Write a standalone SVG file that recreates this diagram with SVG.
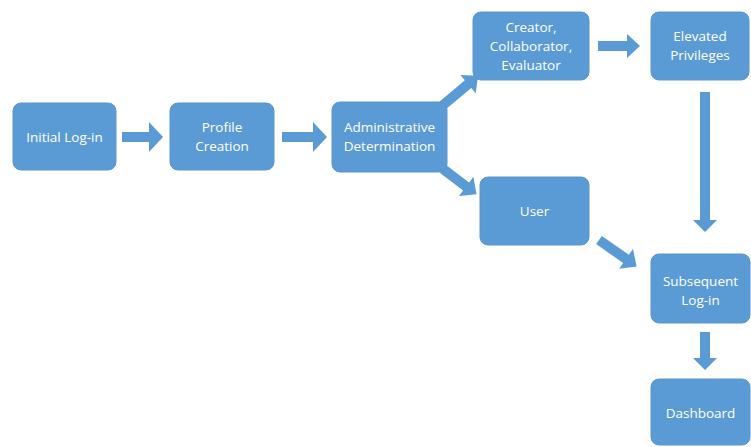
<svg xmlns="http://www.w3.org/2000/svg" width="751" height="447" viewBox="0 0 751 447">
<style>
.box{fill:#5B9BD5;stroke:#5A96CE;stroke-width:1}
.arr{fill:#5B9BD5}
text{font-family:"Open Sans","Liberation Sans",sans-serif;font-size:13.5px;fill:#FFFFFF;text-anchor:middle}
</style>
<rect width="751" height="447" fill="#FFFFFF"/>
<g id="connectors">
<path class="arr" transform="translate(122,137)" d="M0,-5 H27 V-15 L41,0 L27,15 V5 H0 Z"/>
<path class="arr" transform="translate(282,137)" d="M0,-5 H31 V-15 L45,0 L31,15 V5 H0 Z"/>
<path class="arr" transform="translate(598,46)" d="M0,-5 H29 V-12 L42,0 L29,12 V5 H0 Z"/>
<path class="arr" transform="translate(705,92) rotate(90)" d="M0,-5 H128 V-12 L140,0 L128,12 V5 H0 Z"/>
<path class="arr" transform="translate(705,332) rotate(90)" d="M0,-5 H26 V-12 L38,0 L26,12 V5 H0 Z"/>
<path class="arr" transform="translate(442,106) rotate(-40)" d="M0,-5 H34 V-12 L47,0 L34,12 V5 H0 Z"/>
<path class="arr" transform="translate(443,169) rotate(37)" d="M0,-5 H29 V-12 L42,0 L29,12 V5 H0 Z"/>
<path class="arr" transform="translate(599,240) rotate(35)" d="M0,-5 H33 V-12 L46,0 L33,12 V5 H0 Z"/>
</g>
<g id="initial-login"><rect class="box" x="13" y="103" width="103" height="67" rx="8"/><text x="64.5" y="141.5">Initial Log-in</text></g>
<g id="profile-creation"><rect class="box" x="170" y="103" width="104" height="67" rx="8"/><text x="222" y="131.5">Profile</text><text x="222" y="150.5">Creation</text></g>
<g id="admin-determination"><rect class="box" x="332" y="102" width="115" height="70" rx="8"/><text x="389.5" y="131.5">Administrative</text><text x="389.5" y="150.5">Determination</text></g>
<g id="creator"><rect class="box" x="473" y="12" width="116" height="68" rx="8"/><text x="531" y="31.5">Creator,</text><text x="531" y="50.5">Collaborator,</text><text x="531" y="69.5">Evaluator</text></g>
<g id="elevated"><rect class="box" x="651" y="12" width="98" height="68" rx="8"/><text x="700" y="40.5">Elevated</text><text x="700" y="59.5">Privileges</text></g>
<g id="user"><rect class="box" x="480" y="177" width="109" height="68" rx="8"/><text x="534.5" y="215.5">User</text></g>
<g id="subsequent"><rect class="box" x="651" y="254" width="99" height="69" rx="8"/><text x="700.5" y="285.5">Subsequent</text><text x="700.5" y="304.5">Log-in</text></g>
<g id="dashboard"><rect class="box" x="651" y="379" width="99" height="66" rx="8"/><text x="700.5" y="417.5">Dashboard</text></g>
</svg>
